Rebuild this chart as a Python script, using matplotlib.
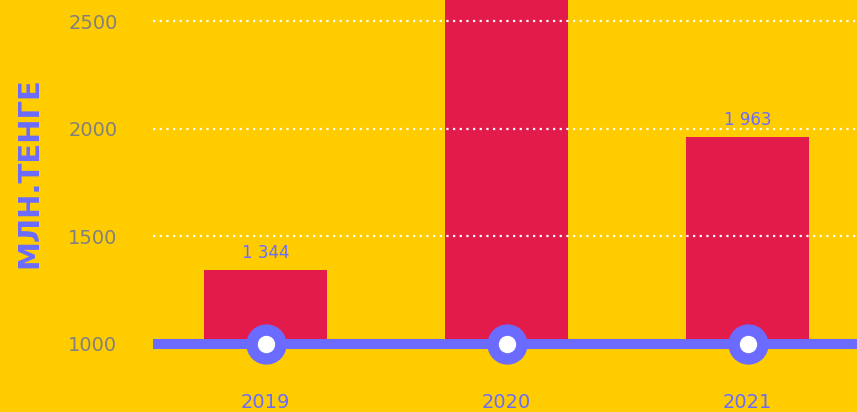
import matplotlib

matplotlib.use("Agg")
import matplotlib.pyplot as plt

years = ["2019", "2020", "2021"]
values = [1344, 2950, 1963]  # 2020 goes past the top of the view, value estimated
value_labels = ["1 344", None, "1 963"]
y_ticks = [1000, 1500, 2000, 2500]

YELLOW = "#FFCC00"
RED = "#E31B4B"
PURPLE = "#6B6BFF"
GRAY = "#808080"

fig = plt.figure(figsize=(8.57, 4.12), dpi=100)
fig.patch.set_facecolor(YELLOW)
ax = fig.add_axes([153 / 857, 0, 1 - 153 / 857, 1])
ax.set_facecolor(YELLOW)

x = list(range(len(years)))
ax.bar(x, [v - 1000 for v in values], bottom=1000, width=0.51, color=RED, zorder=2)

# white dotted grid lines, drawn on top of the bars
for t in y_ticks[1:]:
    ax.axhline(t, color="white", lw=1.6, ls=(0, (1, 2)), zorder=3)

# baseline with round markers
ax.axhline(1000, color=PURPLE, lw=7.2, zorder=4)
ax.plot(x, [1000] * len(x), "o", ms=28, color=PURPLE, zorder=5)
ax.plot(x, [1000] * len(x), "o", ms=11.5, color="white", zorder=6)

for xi, v, lab in zip(x, values, value_labels):
    if lab:
        ax.annotate(lab, (xi, v), xytext=(0, 12), textcoords="offset points",
                    ha="center", va="center", fontsize=12, color=PURPLE)
    ax.text(xi, 772, years[xi], ha="center", va="top", fontsize=14, color=PURPLE)

ax.set_xlim(-0.467, 2.454)
ax.set_ylim(684, 2598)
ax.set_yticks(y_ticks)
ax.set_yticklabels([str(t) for t in y_ticks], fontsize=14, color=GRAY, ha="left")
ax.tick_params(axis="y", length=0, pad=61)
ax.set_xticks([])
for s in ax.spines.values():
    s.set_visible(False)

fig.text(29 / 857, 1 - 173 / 412, "МЛН.ТЕНГЕ", rotation=90, ha="center", va="center",
         fontsize=21, fontweight="bold", color=PURPLE)

fig.savefig("out.png", dpi=100, facecolor=YELLOW)
